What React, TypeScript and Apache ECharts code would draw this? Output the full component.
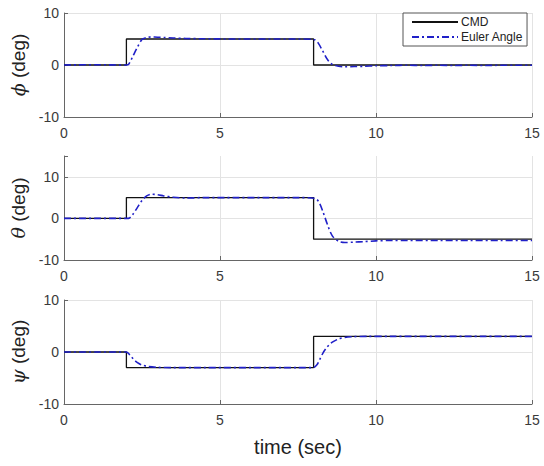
import React, { useEffect, useRef } from "react";
import * as echarts from "echarts";

// Command signals (step profiles)
const cmdTime = [0, 2, 2, 8, 8, 15];
const cmdPhi = [0, 0, 5, 5, 0, 0];
const cmdTheta = [0, 0, 5, 5, -5, -5];
const cmdPsi = [0, 0, -3, -3, 3, 3];

// Measured Euler angles
const eulerPhiTime = [0, 1, 2.0, 2.08, 2.2, 2.35, 2.5, 2.65, 2.8, 3.0, 3.2, 3.5, 3.9, 4.5, 5.5, 6.5, 7.5, 7.95, 8.05, 8.15, 8.3, 8.45, 8.6, 8.8, 9.0, 9.3, 9.6, 10.0, 10.5, 11, 11.5, 12, 12.5, 13, 13.5, 14, 14.5, 15];
const eulerPhi = [0, 0.05, 0, 0.2, 1.6, 3.4, 4.9, 5.3, 5.4, 5.35, 5.3, 5.2, 5.1, 5.05, 5.0, 5.0, 5.0, 4.95, 4.8, 4.2, 2.6, 1.0, 0.1, -0.25, -0.35, -0.3, -0.25, -0.15, -0.1, -0.05, -0.1, -0.05, -0.1, -0.05, -0.1, -0.05, -0.05, -0.05];

const eulerThetaTime = [0, 1, 2.0, 2.1, 2.2, 2.35, 2.5, 2.65, 2.8, 3.0, 3.2, 3.5, 3.9, 4.5, 5.5, 6.5, 7.5, 7.95, 8.1, 8.2, 8.3, 8.45, 8.6, 8.8, 9.0, 9.3, 9.6, 10.0, 10.5, 11, 12, 13, 14, 15];
const eulerTheta = [0, 0, 0, 0.1, 0.9, 2.6, 4.3, 5.4, 5.8, 5.7, 5.4, 5.1, 4.9, 5.0, 5.0, 5.0, 5.0, 4.9, 4.6, 3.5, 1.6, -1.6, -4.2, -5.5, -5.8, -5.7, -5.6, -5.4, -5.3, -5.3, -5.3, -5.3, -5.3, -5.3];

const eulerPsiTime = [0, 1, 2.0, 2.1, 2.2, 2.3, 2.4, 2.5, 2.7, 3.0, 3.5, 4.5, 6, 7.5, 7.98, 8.1, 8.2, 8.3, 8.4, 8.5, 8.6, 8.8, 9.0, 9.3, 9.7, 10.5, 12, 13.5, 15];
const eulerPsi = [0, 0, 0, -0.5, -1.2, -1.8, -2.2, -2.5, -2.8, -2.95, -3.0, -3.0, -3.0, -3.0, -3.0, -2.5, -1.4, -0.2, 0.7, 1.4, 1.9, 2.5, 2.8, 2.95, 3.0, 3.0, 3.0, 3.0, 3.0];

// Axis settings
const xTicks = { min: 0, max: 15, interval: 5 };
const yRanges = [
  { min: -10, max: 10 },
  { min: -10, max: 15 },
  { min: -10, max: 10 },
];
const yNames = ["\u03d5", "\u03b8", "\u03c8"];

const zip = (t: number[], v: number[]) => t.map((x, i) => [x, v[i]]);

const FONT = "Liberation Sans, Arial, Helvetica, sans-serif";
const AXIS_COLOR = "#666666";
const LABEL_COLOR = "#3a3a3a";
const GRID_COLOR = "#e3e3e3";
const BLUE = "#2020c8";

export default function App() {
  const ref = useRef<HTMLDivElement>(null);

  useEffect(() => {
    if (!ref.current) return;
    const chart = echarts.init(ref.current, undefined, { renderer: "svg" });

    const gridTops = [13, 156, 300];
    const grids = gridTops.map((top) => ({ left: 64, top, width: 468, height: 104 }));

    const xAxes = grids.map((_, i) => ({
      type: "value",
      gridIndex: i,
      min: xTicks.min,
      max: xTicks.max,
      interval: xTicks.interval,
      axisLine: { show: true, onZero: false, lineStyle: { color: AXIS_COLOR, width: 1 } },
      axisTick: { show: true, inside: true, length: 4, lineStyle: { color: AXIS_COLOR } },
      axisLabel: { color: LABEL_COLOR, fontSize: 14, fontFamily: FONT, margin: 9 },
      splitLine: { show: true, lineStyle: { color: GRID_COLOR, width: 1 } },
      name: i === 2 ? "time (sec)" : "",
      nameLocation: "middle",
      nameGap: 33,
      nameTextStyle: { fontSize: 20, color: "#222", fontFamily: FONT },
    }));

    const yAxes = grids.map((_, i) => ({
      type: "value",
      gridIndex: i,
      min: yRanges[i].min,
      max: yRanges[i].max,
      interval: 10,
      axisLine: { show: true, onZero: false, lineStyle: { color: AXIS_COLOR, width: 1 } },
      axisTick: { show: true, inside: true, length: 4, lineStyle: { color: AXIS_COLOR } },
      axisLabel: {
        color: LABEL_COLOR,
        fontSize: 14,
        fontFamily: FONT,
        margin: 5,
        formatter: (v: number) => (v === 15 ? "" : String(v)),
      },
      splitLine: {
        show: true,
        showMaxLine: i !== 1,
        lineStyle: { color: GRID_COLOR, width: 1 },
      },
      name: `{g|${yNames[i]}} (deg)`,
      nameLocation: "middle",
      nameGap: 24,
      nameRotate: 90,
      nameTextStyle: {
        fontSize: 19,
        color: "#222",
        fontFamily: FONT,
        rich: {
          g: { fontSize: 19, fontStyle: "italic", fontFamily: "DejaVu Serif, serif", color: "#222" },
        },
      },
    }));

    const cmdSets = [cmdPhi, cmdTheta, cmdPsi];
    const eulerSets = [
      zip(eulerPhiTime, eulerPhi),
      zip(eulerThetaTime, eulerTheta),
      zip(eulerPsiTime, eulerPsi),
    ];

    const series: any[] = [];
    for (let i = 0; i < 3; i++) {
      series.push({
        name: "CMD",
        type: "line",
        xAxisIndex: i,
        yAxisIndex: i,
        data: zip(cmdTime, cmdSets[i]),
        showSymbol: false,
        symbol: "none",
        lineStyle: { color: "#111", width: 1.3 },
        itemStyle: { color: "#111" },
        z: 2,
      });
      series.push({
        name: "Euler Angle",
        type: "line",
        xAxisIndex: i,
        yAxisIndex: i,
        data: eulerSets[i],
        showSymbol: false,
        symbol: "none",
        smooth: 0.3,
        lineStyle: { color: BLUE, width: 1.6, type: [7, 3, 2, 3] },
        itemStyle: { color: BLUE },
        z: 3,
      });
    }

    chart.setOption({
      animation: false,
      backgroundColor: "#ffffff",
      grid: grids,
      xAxis: xAxes,
      yAxis: yAxes,
      legend: {
        show: true,
        data: ["CMD", "Euler Angle"],
        orient: "vertical",
        left: 403,
        top: 13,
        padding: [3, 4, 3, 8],
        itemGap: 3,
        itemWidth: 46,
        itemHeight: 10,
        itemStyle: { opacity: 0 },
        backgroundColor: "#ffffff",
        borderColor: "#555",
        borderWidth: 1,
        borderRadius: 0,
        textStyle: { fontSize: 12, color: "#222", fontFamily: FONT, padding: [0, 0, 0, -2] },
      },
      series,
    });

    return () => chart.dispose();
  }, []);

  return (
    <div
      ref={ref}
      style={{ position: "fixed", left: 0, top: 0, width: 544, height: 466, background: "#fff" }}
    />
  );
}
